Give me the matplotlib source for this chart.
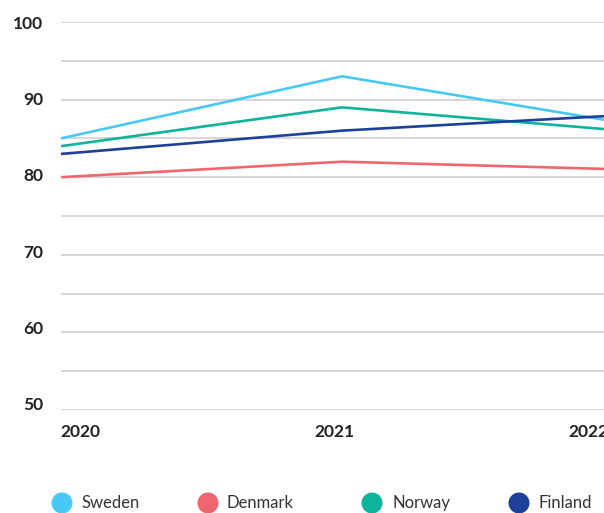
import matplotlib
matplotlib.use("Agg")
import matplotlib.pyplot as plt
from matplotlib.transforms import ScaledTranslation

plt.rcParams['font.family'] = ['Lato', 'DejaVu Sans']

years = [2020, 2021, 2022]
sweden = [85, 93, 87]
denmark = [80, 82, 81]
norway = [84, 89, 86]
finland = [83, 86, 88]

series_names = ["Sweden", "Denmark", "Norway", "Finland"]
series_values = [sweden, denmark, norway, finland]
colors = ["#47C9F5", "#F0666E", "#0DB39B", "#1F409A"]

y_ticks_major = [50, 60, 70, 80, 90, 100]
y_grid = [50, 55, 60, 65, 70, 75, 80, 85, 90, 95, 100]
x_labels = ["2020", "2021", "2022"]

W, H = 604, 513
fig = plt.figure(figsize=(W / 100, H / 100), dpi=100)
ax = fig.add_axes([61 / W, 103 / H, 562 / W, 388 / H])

for yv in y_grid:
    ax.axhline(yv, color="#cccccc", lw=1.1, zorder=1)

for i in range(len(series_names)):
    ax.plot(years, series_values[i], color=colors[i], lw=1.9, zorder=3,
            solid_capstyle="butt", clip_on=False)

ax.set_xlim(2020, 2022)
ax.set_ylim(50, 100)
for s in ax.spines.values():
    s.set_visible(False)
ax.tick_params(length=0)

ax.set_yticks(y_ticks_major)
ax.set_yticklabels([str(v) for v in y_ticks_major], fontsize=12.5,
                   color="#222222", fontweight="bold")
ax.tick_params(axis="y", pad=13)
for v, lab in zip(y_ticks_major, ax.get_yticklabels()):
    dy = (100 - v) / 50 * 6 / 100.0
    lab.set_transform(lab.get_transform() + ScaledTranslation(0, dy, fig.dpi_scale_trans))

ax.set_xticks(years)
ax.set_xticklabels(x_labels, fontsize=12.5, color="#222222", fontweight="bold")
ax.tick_params(axis="x", pad=10)
for k, lab in enumerate(ax.get_xticklabels()):
    lab.set_horizontalalignment("left")
    dx = (-1 - 27 * k) / 100.0
    lab.set_transform(lab.get_transform() + ScaledTranslation(dx, 0, fig.dpi_scale_trans))

# legend overlay in pixel coordinates
lax = fig.add_axes([0, 0, 1, 1], zorder=5)
lax.set_xlim(0, W)
lax.set_ylim(H, 0)
lax.axis("off")
circle_x = [62, 208, 372, 519]
text_x = [81, 226, 392, 538]
ly = 503
for name, c, cx, tx in zip(series_names, colors, circle_x, text_x):
    lax.scatter([cx], [ly], s=(21 * 0.72) ** 2, color=c, edgecolors="none", clip_on=False)
    lax.text(tx, ly, name, fontsize=12, color="#333333", va="center", ha="left")

fig.savefig("out.png", dpi=100)
